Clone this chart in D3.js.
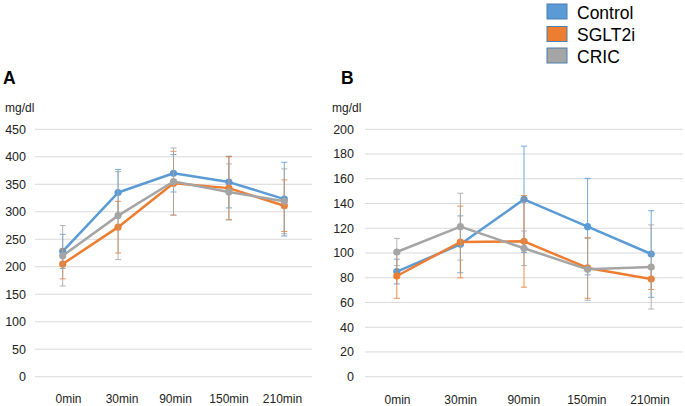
<!DOCTYPE html>
<html><head><meta charset="utf-8">
<script src="https://cdn.jsdelivr.net/npm/d3@7"></script>
<style>body{margin:0;background:#fff}svg{display:block;font-family:"Liberation Sans",Arial,sans-serif}</style>
</head><body><svg id="c" width="685" height="406"></svg>
<script>
const categories = ["0min","30min","90min","150min","210min"];
const seriesNames = ["Control","SGLT2i","CRIC"];
const colors = ["#5B9BD5","#ED7D31","#A5A5A5"];
// Panel A values (mg/dl)
const aControl = [228, 335, 370, 354, 323];
const aSGLT2i  = [205, 272, 352, 343, 311];
const aCRIC    = [220, 293, 355, 336, 319];
const aControlErr = [31, 42, 34, 47, 67];
const aSGLT2iErr  = [27, 47, 58, 57, 47];
const aCRICErr    = [55, 80, 61, 51, 59];
const aTicks = [0,50,100,150,200,250,300,350,400,450];
// Panel B values (mg/dl)
const bControl = [85, 107, 143.4, 121.3, 99.2];
const bSGLT2i  = [81.4, 108.9, 109.4, 87.9, 79];
const bCRIC    = [100.8, 121.3, 103.8, 86.8, 88.7];
const bControlErr = [10, 23, 43, 39, 35];
const bSGLT2iErr  = [18, 29, 37, 24.5, 8.5];
const bCRICErr    = [11, 27, 14, 25, 34];
const bTicks = [0,20,40,60,80,100,120,140,160,180,200];

const svg = d3.select("#c");

function panel(opt){
  const g = svg.append("g");
  const x = d3.scaleBand().domain(categories).range(opt.xr);
  const xl = d3.scalePoint().domain(categories).range(opt.labelRange);
  const y = d3.scaleLinear().domain([0, opt.ymax]).range([376.7, 129.3]);
  const cx = c => x(c) + x.bandwidth()/2;
  g.selectAll("line.grid").data(opt.ticks).enter().append("line")
    .attr("x1", opt.xr[0]).attr("x2", opt.xr[1])
    .attr("y1", d=>y(d)).attr("y2", d=>y(d))
    .attr("stroke", "#d9d9d9").attr("stroke-width", 1);
  g.selectAll("text.yt").data(opt.ticks).enter().append("text")
    .attr("x", opt.ylabX).attr("y", d=>y(d)).attr("dy","0.35em")
    .attr("text-anchor","end").attr("font-size","12.5px").attr("fill","#222")
    .text(d=>d);
  g.selectAll("text.xt").data(categories).enter().append("text")
    .attr("x", d=>xl(d)).attr("y", opt.xlabY)
    .attr("text-anchor","middle").attr("font-size","12px").attr("fill","#222")
    .text(d=>d);
  g.append("text").attr("x", opt.unitX).attr("y", 112).attr("font-size","12px").attr("fill","#222").text("mg/dl");
  g.append("text").attr("x", opt.letterX).attr("y", 83.5).attr("font-size","17.5px").attr("font-weight","bold").attr("fill","#000").text(opt.letter);
  const line = d3.line().x((d,i)=>cx(categories[i])).y(d=>y(d));
  opt.series.forEach((vals, si) => {
    const errs = opt.errs[si];
    const col = colors[si];
    const eg = g.append("g").attr("stroke", col).attr("stroke-width", 1).attr("opacity", 0.85);
    vals.forEach((v,i)=>{
      const xx = cx(categories[i]);
      eg.append("line").attr("x1",xx).attr("x2",xx).attr("y1",y(v-errs[i])).attr("y2",y(v+errs[i]));
      eg.append("line").attr("x1",xx-3).attr("x2",xx+3).attr("y1",y(v-errs[i])).attr("y2",y(v-errs[i]));
      eg.append("line").attr("x1",xx-3).attr("x2",xx+3).attr("y1",y(v+errs[i])).attr("y2",y(v+errs[i]));
    });
    g.append("path").datum(vals).attr("d", line).attr("fill","none")
      .attr("stroke", col).attr("stroke-width", 2.5).attr("stroke-linejoin","round");
    g.selectAll(null).data(vals).enter().append("circle")
      .attr("cx",(d,i)=>cx(categories[i])).attr("cy", d=>y(d)).attr("r", 3.6).attr("fill", col);
  });
}

panel({xr:[35,312], labelRange:[68.5,282.5], ymax:450, ticks:aTicks, ylabX:26, xlabY:403, unitX:5, letterX:3, letter:"A",
  series:[aControl,aSGLT2i,aCRIC], errs:[aControlErr,aSGLT2iErr,aCRICErr]});
panel({xr:[365,683], labelRange:[397.5,650], ymax:200, ticks:bTicks, ylabX:354, xlabY:404, unitX:332, letterX:341, letter:"B",
  series:[bControl,bSGLT2i,bCRIC], errs:[bControlErr,bSGLT2iErr,bCRICErr]});

const lg = svg.append("g");
const legY = [4, 26.5, 48];
seriesNames.forEach((n,i)=>{
  lg.append("rect").attr("x",547).attr("y",legY[i]).attr("width",20).attr("height",15)
    .attr("fill", colors[i]).attr("stroke","#4a7fb0").attr("stroke-width",1);
  lg.append("text").attr("x",577).attr("y",legY[i]+14.5).attr("font-size","17.5px").attr("fill","#000").text(n);
});
</script></body></html>
